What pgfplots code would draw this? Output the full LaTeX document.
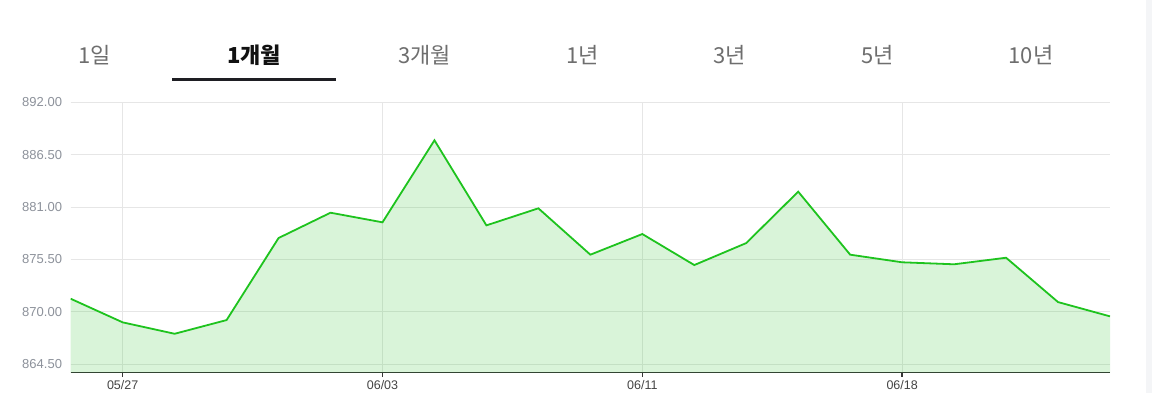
\documentclass[border=0pt]{standalone}
\usepackage{pgfplots}
\pgfplotsset{compat=1.18}
\usepackage{fontspec}
\setmainfont{Liberation Sans}
\newfontfamily\kr{Noto Sans CJK KR}
\definecolor{linegreen}{HTML}{1EC31E}
\definecolor{fillgreen}{HTML}{22C322}
\definecolor{gridgray}{HTML}{E6E6E6}
\definecolor{ylab}{HTML}{8D929B}
\definecolor{xlab}{HTML}{444444}
\definecolor{tabgray}{HTML}{6E6E6E}
\definecolor{tabsel}{HTML}{111111}
\definecolor{ul}{HTML}{1E1E23}
\definecolor{strip}{HTML}{F4F5F7}
\pgfplotstableread{
x y
0 871.36
1 868.88
2 867.68
3 869.12
4 877.74
5 880.40
6 879.39
7 888.01
8 879.07
9 880.86
10 875.99
11 878.16
12 874.90
13 877.21
14 882.61
15 875.99
16 875.19
17 874.98
18 875.67
19 871.01
20 869.51
}\prices
\begin{document}
\begin{tikzpicture}[x=1bp,y=1bp]
\fill[white] (0,0) rectangle (1152,393);
\path[use as bounding box] (0,0) rectangle (1152,393);
\fill[strip] (1146,0) rectangle (1152,393);
% tabs
\tikzset{tab/.style={anchor=base, inner sep=0pt, text=tabgray, font=\kr\fontsize{22bp}{25bp}\selectfont}}
\node[tab] at (95,329.7) {1일};
\node[tab, text=tabsel, font=\kr\bfseries\fontsize{22bp}{25bp}\selectfont] at (254,329.7) {1개월};
\node[tab] at (424.5,329.7) {3개월};
\node[tab] at (583,329.7) {1년};
\node[tab] at (730,329.7) {3년};
\node[tab] at (877.5,329.7) {5년};
\node[tab] at (1031,329.7) {10년};
\draw[ul, line width=3bp] (172,313.7) -- (336,313.7);
\begin{axis}[
  at={(70.7bp,20.3bp)}, anchor=south west,
  scale only axis, width=1039.3bp, height=270.4bp,
  xmin=0, xmax=20, ymin=863.59, ymax=892,
  enlargelimits=false,
  axis x line*=bottom, axis y line*=left,
  y axis line style={draw=none},
  x axis line style={draw=xlab!80!black, line width=1.2bp},
  xtick={1,6,11,16},
  xticklabels={05/27,06/03,06/11,06/18},
  ytick={864.5,870,875.5,881,886.5,892},
  yticklabel={\pgfmathprintnumber[fixed,fixed zerofill,precision=2]{\tick}},
  /pgf/number format/assume math mode=true,
  ytick style={draw=none},
  xtick style={draw=xlab!80!black, line width=1.5bp},
  tick align=outside,
  major tick length=4bp,
  grid=major,
  grid style={gridgray, line width=0.8bp},
  yticklabel style={anchor=east, inner sep=0pt, xshift=-4.5bp, text=ylab, font=\fontsize{13bp}{15bp}\selectfont},
  xticklabel style={anchor=north, inner sep=0pt, yshift=-3.5bp, text=xlab, font=\fontsize{12.5bp}{14bp}\selectfont},
]
\addplot[draw=none, fill=fillgreen, fill opacity=0.17] table[x=x,y=y]{\prices} \closedcycle;
\addplot[linegreen, line width=1.8bp, mark=none] table[x=x,y=y]{\prices};
\end{axis}
\end{tikzpicture}
\end{document}
